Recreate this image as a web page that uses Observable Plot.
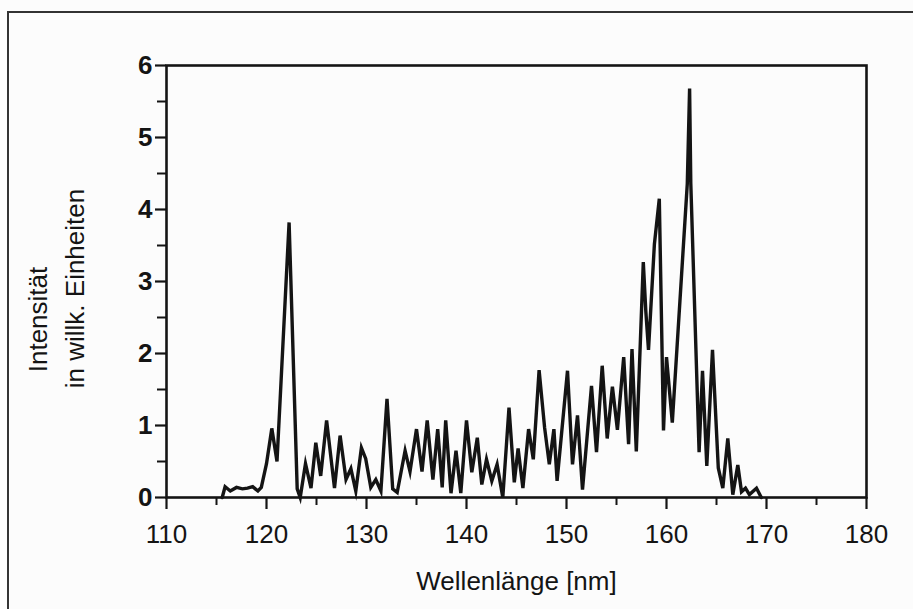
<!DOCTYPE html>
<html>
<head>
<meta charset="utf-8">
<script src="https://cdn.jsdelivr.net/npm/d3@7"></script>
<script src="https://cdn.jsdelivr.net/npm/@observablehq/plot@0.6"></script>
<style>
  html, body { margin: 0; padding: 0; background: #fcfcfc; }
  #wrap { position: relative; width: 913px; height: 609px; overflow: hidden; }
  #box { position: absolute; left: 7px; top: 11px; right: -5px; bottom: -5px;
         border-left: 2px solid #333; border-top: 2px solid #333; }
  #chart { position: absolute; left: 0; top: 0; }
</style>
</head>
<body>
<div id="wrap"><div id="box"></div><div id="chart"></div></div>
<script>
// Emission spectrum: wavelength (nm) and intensity (arbitrary units)
const wavelength = [115.57,115.86,116.38,117.0,117.59,118.1,118.62,119.14,119.48,120.0,120.53,121.05,122.26,123.07,123.37,123.9,124.45,124.93,125.42,126.01,126.8,127.36,127.95,128.44,128.93,129.49,129.92,130.43,130.93,131.44,132.05,132.62,133.07,133.86,134.35,135.0,135.55,136.07,136.64,137.12,137.57,137.92,138.45,138.95,139.43,140.0,140.53,141.08,141.53,142.0,142.53,143.06,143.63,144.25,144.78,145.16,145.64,146.21,146.68,147.26,147.81,148.28,148.74,149.06,150.1,150.6,151.1,151.6,152.5,153.0,153.57,154.07,154.59,155.09,155.72,156.21,156.55,156.98,157.68,157.93,158.2,158.79,159.28,159.7,160.0,160.58,162.08,162.31,162.43,163.26,163.6,164.03,164.6,165.18,165.63,166.13,166.63,167.13,167.5,167.9,168.29,169.0,169.48];
const intensity = [0,0.15,0.09,0.14,0.12,0.13,0.15,0.09,0.14,0.47,0.96,0.5,3.82,0.12,0,0.47,0.13,0.76,0.3,1.07,0.13,0.86,0.25,0.4,0.09,0.69,0.54,0.14,0.25,0.09,1.37,0.12,0.07,0.65,0.36,0.95,0.36,1.07,0.25,0.95,0.14,1.07,0.06,0.65,0.06,1.07,0.35,0.83,0.18,0.53,0.23,0.46,0,1.25,0.21,0.68,0.13,0.95,0.53,1.77,0.97,0.46,0.95,0.23,1.76,0.46,1.14,0.11,1.55,0.63,1.83,0.82,1.54,0.94,1.95,0.74,2.06,0.64,3.27,2.59,2.05,3.52,4.15,0.93,1.95,1.04,4.36,5.68,4.36,0.63,1.76,0.44,2.05,0.41,0.13,0.82,0.04,0.45,0.08,0.13,0.04,0.13,0];

const xTicks = [110, 120, 130, 140, 150, 160, 170, 180];
const xMinorTicks = [115, 125, 135, 145, 155, 165, 175];
const yTicks = [0, 1, 2, 3, 4, 5, 6];
const yMinorTicks = [0.5, 1.5, 2.5, 3.5, 4.5, 5.5];

const xTitle = "Wellenlänge [nm]";
const yTitleLines = ["Intensität", "in willk. Einheiten"];

const spectrum = wavelength.map((w, i) => ({w, v: intensity[i]}));
const ink = "#141414";

const chart = Plot.plot({
  width: 913,
  height: 609,
  marginLeft: 166,
  marginRight: 47,
  marginTop: 65,
  marginBottom: 112,
  style: {fontFamily: "'Liberation Sans', Arial, sans-serif", color: ink, background: "transparent"},
  x: {domain: [110, 180], label: null},
  y: {domain: [0, 6], label: null},
  marks: [
    Plot.frame({stroke: ink, strokeWidth: 2.6}),
    Plot.axisX(xTicks, {tickSize: 12, tickPadding: 15, fontSize: 26, strokeWidth: 2.2, tickFormat: d => String(d)}),
    Plot.axisX(xMinorTicks, {tickSize: 8, tickFormat: () => "", strokeWidth: 2}),
    Plot.axisY(yTicks, {tickSize: 11, tickFormat: () => "", strokeWidth: 2.2}),
    Plot.axisY(yMinorTicks, {tickSize: 9, tickFormat: () => "", strokeWidth: 2}),
    // y tick labels, placed on the y scale left of the frame
    Plot.text(yTicks, {frameAnchor: "left", y: d => d, text: d => String(d), textAnchor: "end", lineAnchor: "middle", dx: -14, fontSize: 26, fontWeight: "bold", fill: ink}),
    Plot.line(spectrum, {x: "w", y: "v", stroke: ink, strokeWidth: 3.4, strokeLinejoin: "miter", strokeMiterlimit: 6}),
    Plot.text([xTitle], {frameAnchor: "bottom", dy: 84, fontSize: 26, textAnchor: "middle", lineAnchor: "middle", fill: ink}),
    Plot.text([yTitleLines[0]], {frameAnchor: "left", rotate: -90, dx: -128, dy: 38, fontSize: 26, textAnchor: "middle", lineAnchor: "middle", fill: ink}),
    Plot.text([yTitleLines[1]], {frameAnchor: "left", rotate: -90, dx: -91, dy: 7, fontSize: 26, textAnchor: "middle", lineAnchor: "middle", fill: ink})
  ]
});
document.getElementById("chart").append(chart);
</script>
</body>
</html>
